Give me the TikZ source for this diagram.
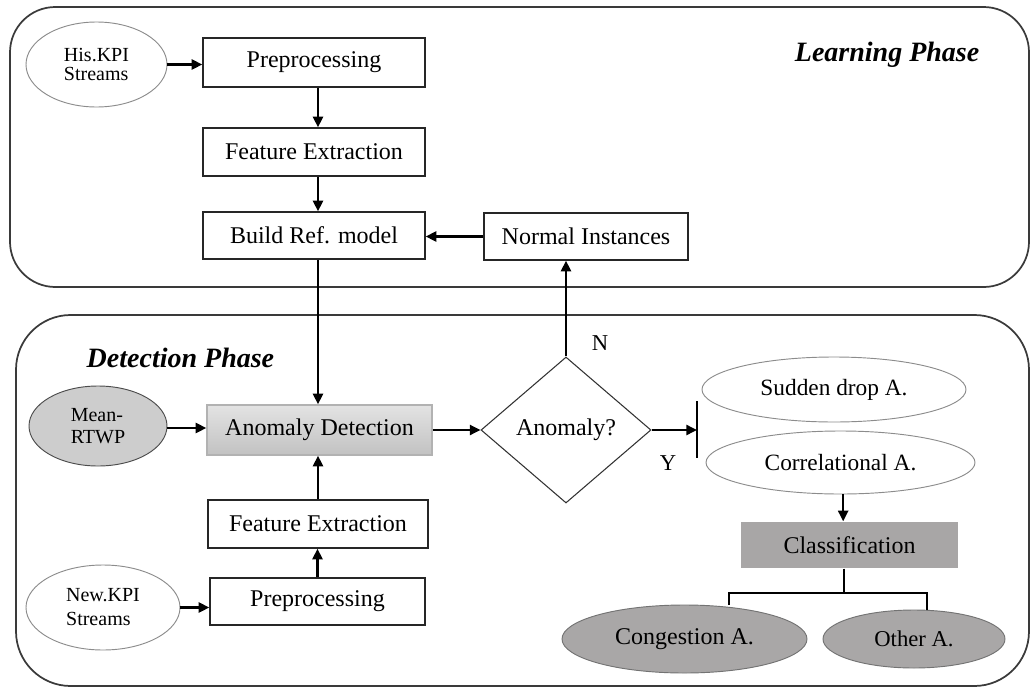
\documentclass[tikz,border=0pt]{standalone}
\usepackage{fontspec}
\setmainfont{Liberation Serif}
\usetikzlibrary{arrows.meta,shapes.geometric,calc}
\definecolor{panelc}{HTML}{3A3A3A}
\definecolor{meanfill}{HTML}{CDCDCD}
\definecolor{clsfill}{HTML}{A8A6A6}
\definecolor{resfill}{HTML}{A9A7A7}
\tikzset{
  panel/.style={draw=panelc,line width=1.3pt},
  box/.style={draw=black!85,line width=1pt,rectangle,inner sep=0pt,font=\fontsize{18}{20}\selectfont},
  ell/.style={ellipse,draw=black!45,line width=0.7pt,inner sep=0pt},
  arr/.style={line width=1.8pt,-{Triangle[length=8pt,width=7.5pt]}},
  ln/.style={line width=1.8pt},
  phase/.style={font=\fontsize{21}{24}\selectfont\bfseries\itshape},
  lab/.style={font=\fontsize{17}{20}\selectfont}
}
\begin{document}
\begin{tikzpicture}[x=0.75pt,y=-0.75pt]
\useasboundingbox (0,0) rectangle (1032,689);
% panels
\draw[panel,rounded corners=34pt] (10,7) rectangle (1029,287);
\draw[panel,rounded corners=41pt] (16,315) rectangle (1029,686);
\node[phase,anchor=east] (lp) at (984,55) {Learning Phase};
\node[phase,anchor=west] (dp) at (82,358) {Detection Phase};
% learning phase
\node[ell,minimum width=105.75pt,minimum height=63.75pt,align=left,font=\fontsize{15}{14.5}\selectfont] (hisk) at (96.5,64.5) {His.KPI\\Streams};
\node[box,minimum width=166.5pt,minimum height=36.75pt] (pre1) at (314,62.5) {Preprocessing};
\node[box,minimum width=166.5pt,minimum height=36pt] (fe1) at (314,152) {Feature Extraction};
\node[box,minimum width=166.5pt,minimum height=35.25pt] (brm) at (314,235.5) {Build Ref. model};
\node[box,minimum width=153pt,minimum height=35.25pt] (ni) at (586,236.5) {Normal Instances};
% detection phase
\node[ell,fill=meanfill,draw=black!70,minimum width=103.5pt,minimum height=60pt,align=left,font=\fontsize{15}{17}\selectfont] (mean) at (98,426) {Mean-\\RTWP};
\node[box,draw=black!30,top color=black!11,bottom color=black!24,minimum width=168.75pt,minimum height=37.5pt] (ad) at (319.5,430) {Anomaly Detection};
\node[box,minimum width=165pt,minimum height=36pt] (fe2) at (318,524) {Feature Extraction};
\node[box,minimum width=161.25pt,minimum height=35.25pt] (pre2) at (317.5,601.5) {Preprocessing};
\node[ell,minimum width=115.5pt,minimum height=63.75pt,align=left,font=\fontsize{15}{18}\selectfont] (newk) at (103,607.5) {New.KPI\\Streams};
\node[diamond,draw=black!80,line width=0.8pt,minimum width=127.5pt,minimum height=109.5pt,inner sep=0pt,font=\fontsize{18}{20}\selectfont] (dec) at (566,430) {Anomaly?};
\node[ell,minimum width=198pt,minimum height=48.75pt,font=\fontsize{17.5}{20}\selectfont] (sud) at (834,389.5) {Sudden drop A.};
\node[ell,minimum width=201.75pt,minimum height=47.25pt,font=\fontsize{17.5}{20}\selectfont] (cor) at (840.5,462.5) {Correlational A.};
\node[box,draw=none,fill=clsfill,minimum width=162.75pt,minimum height=34.5pt] (cls) at (849.5,545) {Classification};
\node[ell,fill=resfill,draw=black!55,minimum width=183.75pt,minimum height=51pt,font=\fontsize{18}{20}\selectfont] (cong) at (684.5,639) {Congestion A.};
\node[ell,fill=resfill,draw=black!55,minimum width=136.5pt,minimum height=43.5pt,font=\fontsize{17}{20}\selectfont] (oth) at (914,639) {Other A.};
\node[lab] (nlab) at (600,343) {N};
\node[lab] (ylab) at (668,463) {Y};
% coordinates
\coordinate (bartop) at (697,401);
\coordinate (barbot) at (697,458);
\coordinate (barmid) at (697,430);
\coordinate (split) at (844,593);
\coordinate (bl) at (729,593);
\coordinate (br) at (927,593);
% connectors learning
\draw[arr] (hisk.east) -- (hisk.east -| pre1.west);
\draw[arr] ([xshift=3pt]pre1.south) -- ([xshift=3pt]fe1.north);
\draw[arr] ([xshift=3pt]fe1.south) -- ([xshift=3pt]brm.north);
\draw[arr] (ni.west) -- (ni.west -| brm.east);
\draw[arr] ([xshift=3pt]brm.south) -- ([xshift=3pt]brm.south |- ad.north);
\draw[arr] (dec.north) -- (dec.north |- ni.south);
% connectors detection
\draw[arr] ([yshift=-1.5pt]mean.east) -- ([yshift=-1.5pt]mean.east -| ad.west);
\draw[arr] (ad.east) -- (dec.west);
\draw[arr] (newk.east) -- (newk.east -| pre2.west);
\draw[arr] (pre2.north) -- (pre2.north |- fe2.south);
\draw[arr] (fe2.north) -- (fe2.north |- ad.south);
\draw[arr] (dec.east) -- (barmid);
\draw[line width=2.2pt] (bartop) -- (barbot);
\draw[arr] ([xshift=2pt]cor.south) -- ([xshift=2pt]cor.south |- cls.north);
\draw[ln] (cls.south -| split) -- (split);
\draw[ln] (bl |- cong.north) -- (bl) -- (br) -- (br |- oth.north);
\end{tikzpicture}
\end{document}
